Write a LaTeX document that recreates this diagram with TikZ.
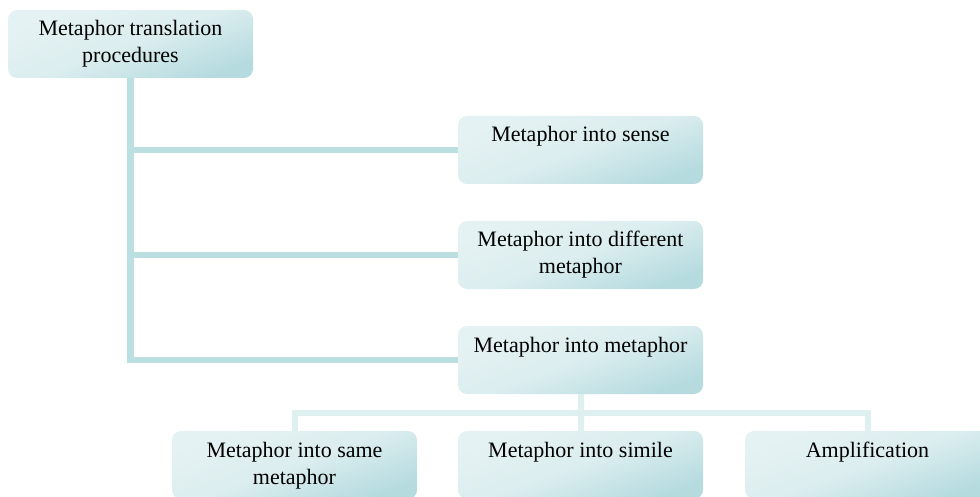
\documentclass[tikz,border=0pt]{standalone}
\usepackage{fontspec}
\setmainfont{Liberation Serif}
\usetikzlibrary{positioning}

\definecolor{boxlight}{HTML}{E5F2F3}
\definecolor{boxdark}{HTML}{B5DBDF}
\definecolor{trunkline}{HTML}{BCDFE2}
\definecolor{busline}{HTML}{DFF0F1}

\newcommand{\boxlabel}[1]{\parbox[c][68pt][t]{240pt}{\centering\rule{0pt}{26pt}#1}}

\begin{document}
\begin{tikzpicture}[x=1pt,y=-1pt,line join=miter,
    proc node/.style={rectangle,rounded corners=9pt,inner sep=0pt,minimum width=245pt,minimum height=68pt,
      top color=boxlight,bottom color=boxdark,middle color=boxlight!80!boxdark,shading angle=20,
      font=\fontsize{22}{27}\selectfont},
    trunk/.style={draw=trunkline,line width=6.5pt},
    bus/.style={draw=busline,line width=6pt}]
      \useasboundingbox (0,0) rectangle (980,497);

      \node [proc node] (root)   at (130.5,44)  {\boxlabel{Metaphor translation\\procedures}};
      \node [proc node] (sense)  at (580.5,150) {\boxlabel{Metaphor into sense}};
      \node [proc node] (diff)   at (580.5,255) {\boxlabel{Metaphor into different\\metaphor}};
      \node [proc node] (mm)     at (580.5,360) {\boxlabel{Metaphor into metaphor}};
      \node [proc node] (same)   at (294.5,465) {\boxlabel{Metaphor into same\\metaphor}};
      \node [proc node] (simile) at (580.5,465) {\boxlabel{Metaphor into simile}};
      \node [proc node] (ampl)   at (867.5,465) {\boxlabel{Amplification}};

      \coordinate (bus) at (580.5,412.5);

      %\foreach \n in {sense, diff}
      %  \draw[trunk] (\n.west) -- ++(-330,0);

      \draw[trunk] (root.south) |- (mm.west);
      \draw[trunk] (root.south |- sense.west) -- (sense.west);
      \draw[trunk] (root.south |- diff.west) -- (diff.west);

      \draw[bus] (mm.south) -- (bus);
      \draw[bus] (same.north) |- (bus) -| (ampl.north);
      \draw[bus] (bus) -- (simile.north);

\end{tikzpicture}
\end{document}
